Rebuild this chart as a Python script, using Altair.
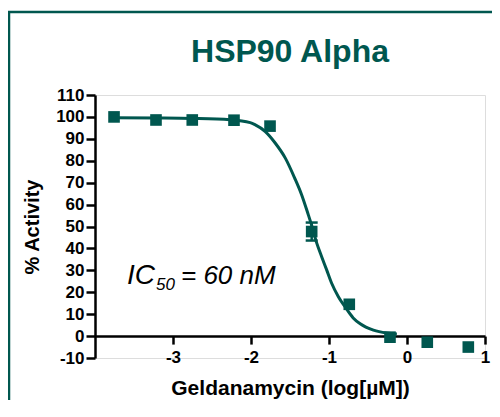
import altair as alt
import pandas as pd

# ---- data ----
chart_title = "HSP90 Alpha"
x_title = "Geldanamycin (log[µM])"
y_title = "% Activity"

log_conc = [-3.756, -3.218, -2.753, -2.218, -1.756, -1.222, -0.74, -0.218, 0.26, 0.786]
activity = [100.0, 98.6, 98.6, 98.5, 95.8, 47.7, 14.5, -0.5, -2.8, -5.0]
sem = [0, 0, 0, 0, 0, 4.1, 0, 0, 0, 0]

curve_x = [-3.756, -3.2, -2.75, -2.27, -2.01, -1.95, -1.82, -1.69, -1.56, -1.44,
           -1.35, -1.265, -1.222, -1.157, -1.094, -1.03, -0.966, -0.88, -0.795,
           -0.69, -0.60, -0.43, -0.26, -0.13]
curve_y = [99.6, 99.5, 99.3, 98.7, 97.4, 96.5, 93.4, 88.1, 81.2, 72.1,
           64.4, 55.3, 50.5, 42.4, 36.2, 30.2, 24.1, 18.0, 13.4,
           8.3, 5.6, 2.7, 1.4, 1.0]

x_ticks = [-3, -2, -1, 0, 1]
y_ticks = list(range(-10, 111, 10))
ann_main = "IC"
ann_sub = "50"
ann_rest = "= 60 nM"

# ---- styling ----
teal = "#00574F"
font = "Liberation Sans"
W, H = 390, 263

pts = pd.DataFrame({"x": log_conc, "y": activity, "sem": sem})
pts["lo"] = pts["y"] - pts["sem"]
pts["hi"] = pts["y"] + pts["sem"]
err = pts[pts["sem"] > 0]
curve = pd.DataFrame({"x": curve_x, "y": curve_y})

xs = alt.Scale(domain=[-4, 1], nice=False, zero=False)
ys = alt.Scale(domain=[-10, 110], nice=False, zero=False)

x_axis = alt.Axis(
    values=x_ticks, tickCount=len(x_ticks) + 2, title=x_title, offset=-H / 12.0,
    grid=False, tickSize=8, tickWidth=2.5, domainWidth=2.5,
    domainColor="black", tickColor="black", labelColor="black", titleColor="black",
    labelFont=font, labelFontSize=17, labelFontWeight="bold", labelPadding=5,
    labelFlush=False, labelOverlap=False, labelExpr="'' + datum.value",
    titleFont=font, titleFontSize=21, titleFontWeight="bold",
    titleY=58, titleBaseline="alphabetic",
)
y_axis = alt.Axis(
    values=y_ticks, tickCount=len(y_ticks) + 2, title=y_title,
    grid=False, tickSize=9, tickWidth=2.5, domainWidth=2.5,
    domainColor="black", tickColor="black", labelColor="black", titleColor="black",
    labelFont=font, labelFontSize=17, labelFontWeight="bold", labelPadding=2,
    labelOverlap=False, labelExpr="'' + datum.value",
    titleFont=font, titleFontSize=20, titleFontWeight="bold",
    titleX=-57, titleY=H / 2.0, titleBaseline="alphabetic", titleAngle=270,
)


def X(field):
    return alt.X(field, scale=xs, axis=x_axis)


def Y(field):
    return alt.Y(field, scale=ys, axis=y_axis)


one = pd.DataFrame({"k": [0]})

frame = alt.Chart(one).mark_rect(
    filled=False, stroke=teal, strokeWidth=2.5, fillOpacity=0
).encode(x=alt.value(-86), x2=alt.value(W + 60), y=alt.value(-83), y2=alt.value(H + 80))

title = alt.Chart(pd.DataFrame({"t": [chart_title]})).mark_text(
    font=font, fontSize=32, fontWeight="bold", color=teal, align="center", baseline="alphabetic"
).encode(x=alt.value(W / 2.0), y=alt.value(-33), text="t:N")

line = alt.Chart(curve).mark_line(color=teal, strokeWidth=3, interpolate="monotone").encode(
    x=X("x:Q"), y=Y("y:Q")
)
points = alt.Chart(pts).mark_point(
    shape="square", filled=True, size=135, color=teal, opacity=1
).encode(x=X("x:Q"), y=Y("y:Q"))

bar = alt.Chart(err).mark_rule(color=teal, strokeWidth=2.5).encode(
    x=X("x:Q"), y=Y("lo:Q"), y2="hi:Q"
)
cap_lo = alt.Chart(err).mark_tick(orient="horizontal", size=12, thickness=2.5, color=teal, opacity=1).encode(
    x=X("x:Q"), y=Y("lo:Q")
)
cap_hi = alt.Chart(err).mark_tick(orient="horizontal", size=12, thickness=2.5, color=teal, opacity=1).encode(
    x=X("x:Q"), y=Y("hi:Q")
)

ann_x, ann_y = -3.59, 23.7
t1 = alt.Chart(pd.DataFrame({"t": [ann_main]})).mark_text(
    font=font, fontSize=28, fontStyle="italic", align="left", baseline="alphabetic", color="black"
).encode(x=alt.datum(ann_x), y=alt.datum(ann_y), text="t:N")
t2 = alt.Chart(pd.DataFrame({"t": [ann_sub]})).mark_text(
    font=font, fontSize=17, fontStyle="italic", align="left", baseline="alphabetic", color="black",
    dx=29, dy=6
).encode(x=alt.datum(ann_x), y=alt.datum(ann_y), text="t:N")
t3 = alt.Chart(pd.DataFrame({"t": [ann_rest]})).mark_text(
    font=font, fontSize=26, fontStyle="italic", align="left", baseline="alphabetic", color="black",
    dx=54
).encode(x=alt.datum(ann_x), y=alt.datum(ann_y), text="t:N")

chart = alt.layer(frame, title, line, bar, cap_lo, cap_hi, points, t1, t2, t3).properties(
    width=W, height=H,
    autosize=alt.AutoSizeParams(type="none"),
    padding={"left": 87, "top": 87, "right": 7, "bottom": 42},
).configure_view(stroke=None).configure_axis(labelOverlap=False).configure(background="white")

chart.save("out.html", embed_options={"renderer": "svg", "actions": False})
